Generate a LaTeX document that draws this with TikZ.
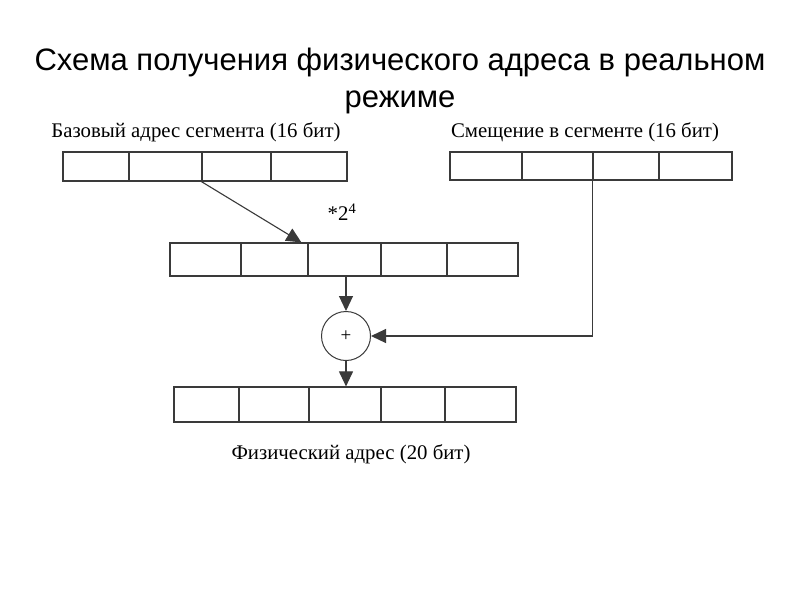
\documentclass[tikz,border=0pt]{standalone}
\usepackage{fontspec}
\setmainfont{Liberation Serif}
\newfontfamily\titlefont{Liberation Sans}
\usetikzlibrary{arrows.meta,positioning}

\definecolor{ink}{HTML}{3A3A3A}
\tikzset{
  cell/.style={draw=ink, line width=1.2pt, inner sep=0pt, minimum height=#1},
  lbl/.style={font=\fontsize{20.8}{22}\selectfont, inner sep=0pt},
  adder/.style={circle, draw=ink, line width=1pt, minimum size=49pt, inner sep=0pt, font=\fontsize{19}{20}\selectfont}
}

\begin{document}
\begin{tikzpicture}[x=1pt,y=-1pt,>={Triangle[length=15pt,width=14pt]},line width=1.1pt]
  \useasboundingbox[fill=white] (0,0) rectangle (800,600);
  \node[font=\titlefont\fontsize{31}{36.5}\selectfont, align=center] (title) at (400,81)
    {Схема получения физического адреса в реальном\\режиме};

  % registers
  \foreach \l/\r [count=\i] in {63/129,129/202,202/271,271/347}
    \node[cell=29pt, minimum width=\r pt-\l pt] (b\i) at ({(\l+\r)/2},166.5) {};
  \foreach \l/\r [count=\i] in {450/522,522/593,593/659,659/732}
    \node[cell=28pt, minimum width=\r pt-\l pt] (o\i) at ({(\l+\r)/2},166) {};
  \foreach \l/\r [count=\i] in {170/241,241/308,308/381,381/447,447/518}
    \node[cell=33pt, minimum width=\r pt-\l pt] (s\i) at ({(\l+\r)/2},259.5) {};
  \foreach \l/\r [count=\i] in {174/239,239/309,309/381,381/445,445/516}
    \node[cell=35pt, minimum width=\r pt-\l pt] (p\i) at ({(\l+\r)/2},404.5) {};

  \node[lbl] (baselbl) at (196,132) {Базовый адрес сегмента (16 бит)};
  \node[lbl] (offlbl) at (585,132) {Смещение в сегменте (16 бит)};
  \node[lbl] (shift) at (342,212) {*2\textsuperscript{4}};
  \node[lbl] (physlbl) at (351,454) {Физический адрес (20 бит)};
  \node[adder] (sum) at (346,336) {+};

  \draw[->,draw=ink] (b3.south west) -- ([xshift=-6pt]s3.north west);
  \draw[->,draw=ink] (sum |- s3.south) -- (sum);
  \draw[->,draw=ink] (o3.south west) |- (sum);
  \draw[->,draw=ink] (sum) -- (sum |- p3.north);
\end{tikzpicture}
\end{document}
